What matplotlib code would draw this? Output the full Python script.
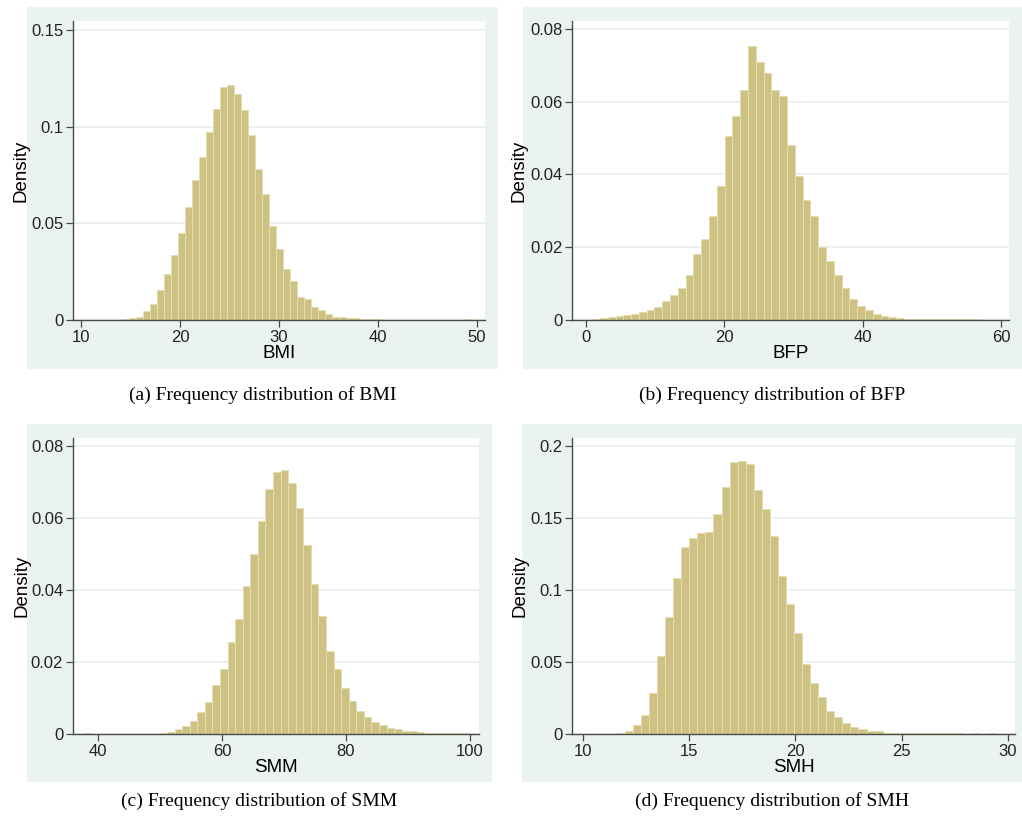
# 체성분 지표별 빈도 분포 (BMI, BFP, SMM, SMH) 히스토그램 4개
import numpy as np
import matplotlib.pyplot as plt
from matplotlib.patches import Rectangle

# 히스토그램 밀도값
bmi_start, bmi_width = 14.1, 0.707
bmi_density = [0.0003, 0.0009, 0.0017, 0.0045, 0.0083, 0.0155, 0.0238, 0.0334, 0.0448, 0.0586,
               0.0722, 0.0841, 0.0972, 0.1093, 0.1203, 0.1214, 0.1169, 0.1083, 0.0955, 0.0783,
               0.0652, 0.0486, 0.0366, 0.0262, 0.0203, 0.0121, 0.0107, 0.0067, 0.0052, 0.0033,
               0.0017, 0.0016, 0.0012, 0.0009, 0.0004, 0.0003, 0.0003, 0.0002, 0.0002, 0.0002,
               0.0002, 0.0002, 0.0002, 0.0002, 0.0002, 0.0002, 0.0002, 0.0002, 0.0, 0.0003]

bfp_start, bfp_width = -0.2, 1.125
bfp_density = [0.0001, 0.0002, 0.0005, 0.0007, 0.0010, 0.0013, 0.0016, 0.0021, 0.0027, 0.0036,
               0.0053, 0.0068, 0.0088, 0.0123, 0.0180, 0.0222, 0.0287, 0.0369, 0.0507, 0.0562,
               0.0632, 0.0752, 0.0708, 0.0678, 0.0632, 0.0615, 0.0481, 0.0397, 0.0331, 0.0285,
               0.0200, 0.0161, 0.0123, 0.0088, 0.0057, 0.0038, 0.0027, 0.0016, 0.0012, 0.0007,
               0.0005, 0.0004, 0.0002, 0.0002, 0.0002, 0.0002, 0.0002, 0.0002, 0.0002, 0.0002,
               0.0002]

smm_start, smm_width = 37.65, 1.223
smm_density = [0.0002, 0.0, 0.0001, 0.0001, 0.0001, 0.0001, 0.0001, 0.0001, 0.0001, 0.0001,
               0.0004, 0.0006, 0.0014, 0.0022, 0.0036, 0.0062, 0.0088, 0.0135, 0.0181, 0.0255,
               0.0320, 0.0411, 0.0500, 0.0591, 0.0680, 0.0729, 0.0732, 0.0698, 0.0628, 0.0526,
               0.0416, 0.0329, 0.0231, 0.0181, 0.0129, 0.0091, 0.0065, 0.0047, 0.0032, 0.0024,
               0.0016, 0.0013, 0.0009, 0.0009, 0.0005, 0.0002, 0.0002, 0.0002, 0.0002, 0.0002,
               0.0002]

smh_start, smh_width = 10.09, 0.379
smh_density = [0.0002, 0.0002, 0.0002, 0.0002, 0.0009, 0.0023, 0.0060, 0.0132, 0.0285, 0.0539,
               0.0815, 0.1086, 0.1301, 0.1359, 0.1394, 0.1403, 0.1525, 0.1713, 0.1889, 0.1896,
               0.1877, 0.1692, 0.1560, 0.1373, 0.1097, 0.0903, 0.0701, 0.0488, 0.0352, 0.0259,
               0.0162, 0.0120, 0.0074, 0.0046, 0.0032, 0.0019, 0.0019, 0.0005, 0.0005, 0.0005,
               0.0005, 0.0005, 0.0005, 0.0005, 0.0005, 0.0005, 0.0005, 0.0, 0.0005, 0.0,
               0.0005]

var_names = ['BMI', 'BFP', 'SMM', 'SMH']
captions = ['(a) Frequency distribution of BMI', '(b) Frequency distribution of BFP',
            '(c) Frequency distribution of SMM', '(d) Frequency distribution of SMH']
x_ticks = [[10, 20, 30, 40, 50], [0, 20, 40, 60], [40, 60, 80, 100], [10, 15, 20, 25, 30]]
y_ticks = [[0, 0.05, 0.1, 0.15], [0, 0.02, 0.04, 0.06, 0.08],
           [0, 0.02, 0.04, 0.06, 0.08], [0, 0.05, 0.1, 0.15, 0.2]]
y_ticklabels = [['0', '0.05', '0.1', '0.15'], ['0', '0.02', '0.04', '0.06', '0.08'],
                ['0', '0.02', '0.04', '0.06', '0.08'], ['0', '0.05', '0.1', '0.15', '0.2']]

hist_data = [(bmi_start, bmi_width, bmi_density), (bfp_start, bfp_width, bfp_density),
             (smm_start, smm_width, smm_density), (smh_start, smh_width, smh_density)]

# 레이아웃 (figure 비율)
ax_pos = [[0.0714, 0.6117, 0.4031, 0.3629], [0.5597, 0.6117, 0.4276, 0.3629],
          [0.0714, 0.1092, 0.3973, 0.3592], [0.5597, 0.1092, 0.4335, 0.3592]]
bg_pos = [[0.0264, 0.5522, 0.4609, 0.4393], [0.5117, 0.5522, 0.4883, 0.4393],
          [0.0264, 0.0510, 0.4550, 0.4345], [0.5108, 0.0510, 0.4892, 0.4345]]
x_lims = [(9.19, 50.8), (-1.98, 61.1), (35.9, 101.5), (9.5, 30.34)]
y_lims = [(0, 0.1546), (0, 0.0822), (0, 0.0822), (0, 0.2056)]
ylab_x = [-0.105, -0.101, -0.105, -0.099]
cap_y = [0.521, 0.028]

plt.rcParams['font.family'] = ['Liberation Sans', 'DejaVu Sans']
fig = plt.figure(figsize=(10.22, 8.24), dpi=100)

bg_color = '#eaf2f2'
bar_color = '#cdc283'
edge_color = '#e4ddb0'
axis_color = '#4a4a4a'

for i in range(4):
    fig.add_artist(Rectangle(bg_pos[i][:2], bg_pos[i][2], bg_pos[i][3],
                             transform=fig.transFigure, facecolor=bg_color,
                             edgecolor='none', zorder=0))
    ax = fig.add_axes(ax_pos[i])
    ax.set_facecolor('white')
    start, width, dens = hist_data[i]
    left_edges = start + width * np.arange(len(dens))
    ax.bar(left_edges, dens, width=width, align='edge', color=bar_color,
           edgecolor=edge_color, linewidth=0.7, zorder=2)

    ax.set_xlim(x_lims[i])
    ax.set_ylim(y_lims[i])
    ax.set_xticks(x_ticks[i])
    ax.set_yticks(y_ticks[i])
    ax.set_yticklabels(y_ticklabels[i])
    ax.grid(axis='y', color='#e6efef', linewidth=1.2, zorder=1)
    ax.set_axisbelow(True)

    for side in ['top', 'right']:
        ax.spines[side].set_visible(False)
    for side in ['left', 'bottom']:
        ax.spines[side].set_color(axis_color)
        ax.spines[side].set_linewidth(1.0)
    ax.tick_params(axis='both', labelsize=12, colors='#222222', length=5,
                   width=0.9, direction='out', pad=2)
    ax.tick_params(axis='both', color=axis_color)

    ax.set_xlabel(var_names[i], fontsize=13.5, labelpad=0)
    ax.set_ylabel('Density', fontsize=13.5)
    ax.yaxis.set_label_coords(ylab_x[i], 0.5)

    # 캡션 (serif)
    cx = bg_pos[i][0] + bg_pos[i][2] / 2
    fig.text(cx, cap_y[i // 2], captions[i], ha='center', va='center',
             fontsize=14, family=['Liberation Serif', 'DejaVu Serif'])

plt.savefig('out.png', dpi=100)
